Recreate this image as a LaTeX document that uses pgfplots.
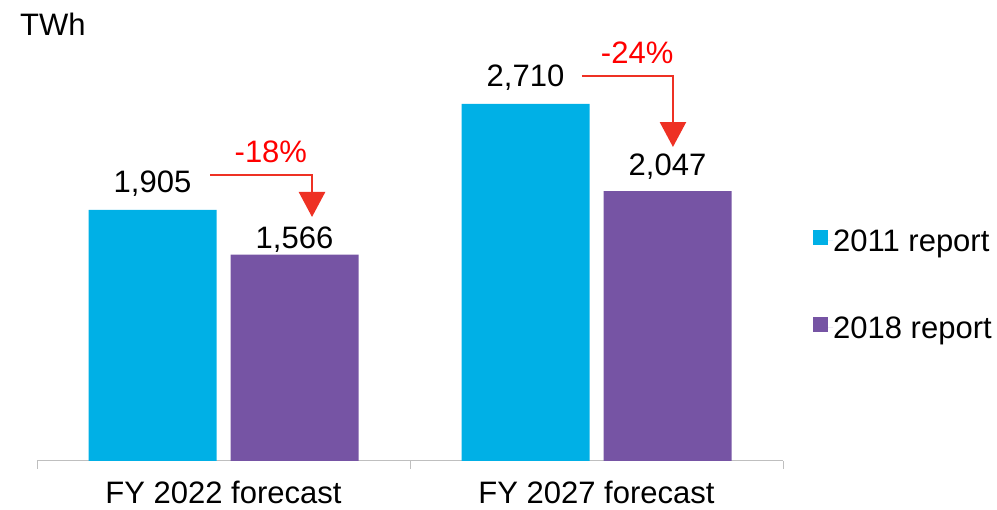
\documentclass[border=0pt]{standalone}
\usepackage{fontspec}
\setmainfont{Liberation Sans}
\usepackage{pgfplots}
\usepackage{pgfplotstable}
\pgfplotsset{compat=1.18}
\usetikzlibrary{arrows.meta}

\definecolor{cblue}{HTML}{00B0E6}
\definecolor{cpurple}{HTML}{7654A4}
\definecolor{cred}{HTML}{EE3124}
\definecolor{axisgray}{HTML}{BFBFBF}

% x, value, label offset above bar (pt)
\pgfplotstableread{
x y s
0 1905 17
1 2710 17
}\reporta
\pgfplotstableread{
x y s
0 1566 6
1 2047 16
}\reportb

\begin{document}
\begin{tikzpicture}[font=\fontsize{31}{37}\selectfont]
\path[use as bounding box] (-37pt,-49pt) rectangle (960pt,461pt);
\begin{axis}[
  scale only axis, width=746pt, height=435pt,
  xmin=-0.5, xmax=1.5, ymin=0, ymax=3300,
  clip=false,
  axis y line=none, axis x line*=bottom,
  x axis line style={color=axisgray, line width=1pt, -},
  xtick={0,1}, xticklabels={FY 2022 forecast, FY 2027 forecast},
  major tick length=0pt,
  minor xtick={-0.5,0.5,1.5}, minor tick length=8pt, tick align=outside,
  minor x tick style={color=axisgray, line width=1pt},
  xticklabel style={anchor=base, inner sep=0pt, yshift=-43pt},
  ybar,
  bar width=128pt,
  nodes near coords={\pgfmathprintnumber[1000 sep={,}, assume math mode=true]{\pgfplotspointmeta}},
  visualization depends on={\thisrow{s} \as \labshift},
  every node near coord/.append style={anchor=base, inner sep=0pt, yshift=\labshift pt, text=black},
  legend style={draw=none, fill=none, at={(1.0362,0.408)}, anchor=west,
    row sep=53pt, nodes={inner sep=0pt, text height=28pt, text depth=6pt}},
  legend cell align=left,
  legend image code/.code={\fill[#1] (0pt,-5pt) rectangle (15pt,10pt);
    \path (0pt,0pt) -- (20pt,0pt);},
]
\addplot[fill=cblue, draw=none, bar shift=-71pt] table[x=x, y=y] {\reporta};
\addlegendentry{2011 report}
\addplot[fill=cpurple, draw=none, bar shift=71pt] table[x=x, y=y] {\reportb};
\addlegendentry{2018 report}

\draw[cred, line width=2.5pt, -{Triangle[width=26pt, length=25pt]}]
  (axis cs:-0.036,2170) -| (axis cs:0.2373,1851);
\draw[cred, line width=2.5pt, -{Triangle[width=26pt, length=25pt]}]
  (axis cs:0.961,2921) -| (axis cs:1.205,2382);
\node[anchor=base, inner sep=0pt, text=red] at (axis cs:0.127,2268) {-18\%};
\node[anchor=base, inner sep=0pt, text=red] at (axis cs:1.109,3019) {-24\%};
\end{axis}
\node[anchor=base west, inner sep=0pt] at (-17pt,425pt) {TWh};
\end{tikzpicture}
\end{document}
